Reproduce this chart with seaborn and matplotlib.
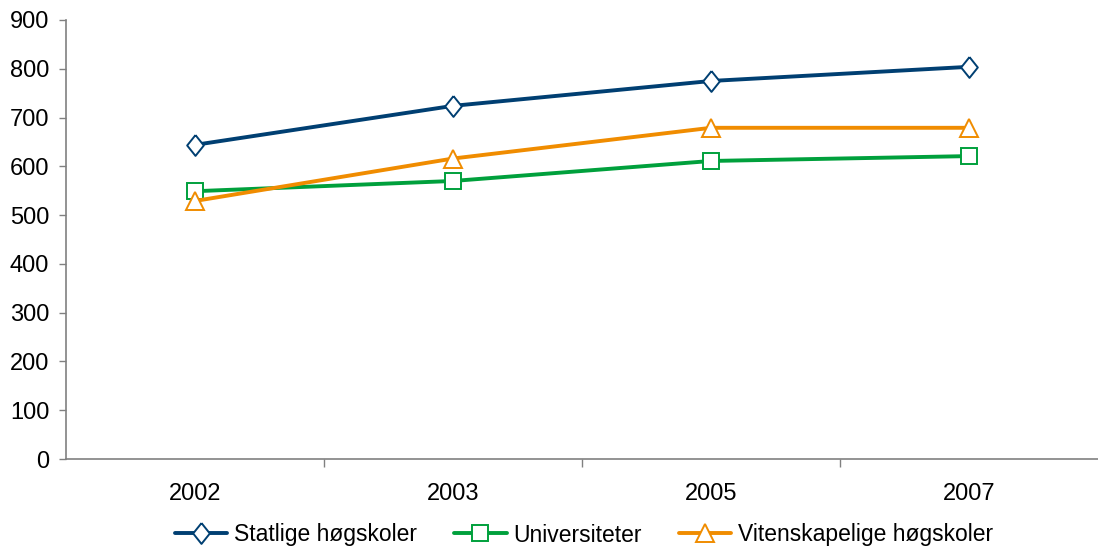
import numpy as np
import matplotlib
matplotlib.use("Agg")
import matplotlib.pyplot as plt
import seaborn as sns
import pandas as pd

years = ["2002", "2003", "2005", "2007"]
statlige = [644, 724, 775, 804]
universiteter = [549, 570, 611, 621]
vitenskapelige = [529, 616, 679, 679]

diamond = [(0, 1), (0.8, 0), (0, -1), (-0.8, 0), (0, 1)]
series = [
    ("Statlige høgskoler", statlige, "#003F72", diamond, 15),
    ("Universiteter", universiteter, "#00A03C", "s", 11),
    ("Vitenskapelige høgskoler", vitenskapelige, "#F08C00", "^", 13),
]

sns.set_style("white")
plt.rcParams["font.family"] = ["Liberation Sans", "DejaVu Sans"]
plt.rcParams["text.color"] = "black"
plt.rcParams["xtick.color"] = "black"
plt.rcParams["ytick.color"] = "black"

fig = plt.figure(figsize=(10.98, 5.49), dpi=100)
ax = fig.add_axes([66 / 1098, 1 - 459 / 549, 1 - 66 / 1098, (459 - 20) / 549])

for name, vals, col, mk, ms in series:
    df = pd.DataFrame({"year": years, "value": vals})
    sns.lineplot(data=df, x="year", y="value", ax=ax, color=col, marker=mk,
                 markersize=ms, markerfacecolor="white", markeredgecolor=col,
                 markeredgewidth=1.4, linewidth=2.8, label=name)

ax.set_xlim(-0.5, 3.5)
ax.set_ylim(0, 900)
ax.set_yticks(np.arange(0, 901, 100))
ax.set_xticks(range(4))
ax.set_xticklabels(years)
ax.set_xticks([0.5, 1.5, 2.5], minor=True)
ax.tick_params(axis="x", which="major", length=0, pad=17, labelsize=17, labelcolor="black")
ax.tick_params(axis="x", which="minor", length=6, width=1, color="#808080", direction="out", bottom=True)
ax.tick_params(axis="y", length=5, width=1, color="#808080", direction="out", left=True,
               labelsize=17, pad=7, labelcolor="black")
ax.set_xlabel("")
ax.set_ylabel("")
for s in ["top", "right"]:
    ax.spines[s].set_visible(False)
for s in ["left", "bottom"]:
    ax.spines[s].set_color("#808080")
    ax.spines[s].set_linewidth(1.2)

handles, labels = ax.get_legend_handles_labels()
ax.legend_.remove()
fig.legend(handles, labels, loc="center", bbox_to_anchor=(584 / 1098, 1 - 535 / 549), ncol=3,
           frameon=False, fontsize=16.5, handlelength=2.3, columnspacing=1.6, handletextpad=0.3)

fig.savefig("out.png", dpi=100)
